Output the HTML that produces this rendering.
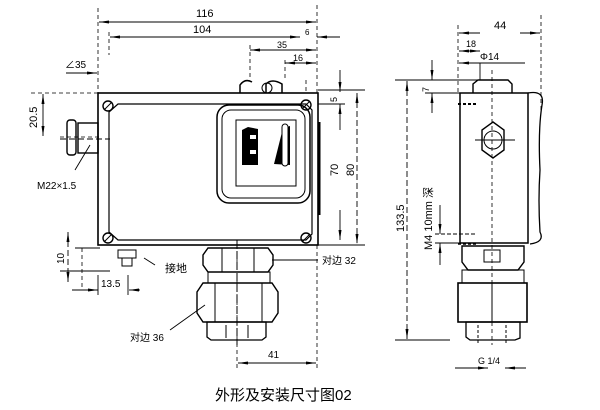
<!DOCTYPE html>
<html><head><meta charset="utf-8"><style>
body{margin:0;background:#fff}
svg{display:block}
text{font-family:"Liberation Sans","Noto Sans CJK SC",sans-serif;fill:#000}
</style></head><body>
<svg width="600" height="410" viewBox="0 0 600 410" xmlns="http://www.w3.org/2000/svg">
<defs>
<marker id="a" viewBox="0 0 10 4" refX="10" refY="2" markerWidth="14" markerHeight="4" orient="auto-start-reverse" markerUnits="userSpaceOnUse"><path d="M0,0.5 L10,2 L0,3.5z" fill="#000"/></marker>
</defs>
<g stroke="#000" fill="none" stroke-width="1">
<!-- extension lines -->
<g stroke-dasharray="4,3" stroke-width="0.8">
<line x1="98" y1="8" x2="98" y2="93"/><line x1="317" y1="5" x2="317" y2="93"/>
<line x1="109" y1="32" x2="109" y2="55"/><line x1="250" y1="45" x2="250" y2="78"/><line x1="285" y1="60" x2="285" y2="80"/><line x1="306" y1="80" x2="306" y2="93"/>
<line x1="317" y1="245" x2="317" y2="370"/><line x1="237" y1="245" x2="237" y2="370"/>
<line x1="458" y1="25" x2="458" y2="93"/><line x1="541" y1="15" x2="541" y2="110"/>
<line x1="492" y1="70" x2="492" y2="345"/><line x1="60" y1="137" x2="100" y2="137"/>
<line x1="82" y1="248" x2="82" y2="290"/><line x1="98" y1="93" x2="30" y2="93"/>
</g>
<!-- dimension lines -->
<g stroke-width="0.9">
<line x1="99" y1="22" x2="316" y2="22" marker-start="url(#a)" marker-end="url(#a)"/>
<line x1="110" y1="37" x2="300" y2="37" marker-start="url(#a)"/>
<line x1="283" y1="37" x2="300" y2="37" marker-end="url(#a)"/><line x1="340" y1="37" x2="317" y2="37" marker-end="url(#a)"/>
<line x1="250" y1="50" x2="316" y2="50" marker-start="url(#a)" marker-end="url(#a)"/>
<line x1="285" y1="63" x2="316" y2="63" marker-start="url(#a)" marker-end="url(#a)"/>
<line x1="66" y1="73" x2="97" y2="73" marker-end="url(#a)"/>
<line x1="43" y1="94" x2="43" y2="136" marker-start="url(#a)" marker-end="url(#a)"/>
<line x1="340" y1="70" x2="340" y2="92" marker-end="url(#a)"/>
<line x1="340" y1="104" x2="340" y2="130" marker-start="url(#a)"/>
<line x1="340" y1="210" x2="340" y2="240" marker-end="url(#a)"/>
<line x1="357" y1="93" x2="357" y2="244" marker-start="url(#a)" marker-end="url(#a)" stroke-dasharray="6,3"/>
<line x1="318" y1="90" x2="365" y2="90"/><line x1="318" y1="245" x2="365" y2="245"/><line x1="318" y1="104" x2="345" y2="104"/>
<line x1="68" y1="232" x2="68" y2="282" marker-start="url(#a)" marker-end="url(#a)" stroke-dasharray="6,3"/>
<line x1="60" y1="271" x2="110" y2="271"/><line x1="75" y1="248" x2="100" y2="248"/>
<line x1="72" y1="290" x2="98" y2="290" marker-end="url(#a)"/><line x1="140" y1="290" x2="129" y2="290" marker-end="url(#a)"/>
<line x1="98" y1="275" x2="98" y2="295"/><line x1="128" y1="275" x2="128" y2="295"/>
<line x1="238" y1="363" x2="316" y2="363" marker-start="url(#a)" marker-end="url(#a)"/>
<line x1="272" y1="260" x2="318" y2="260"/>
<line x1="170" y1="330" x2="205" y2="305"/><line x1="75" y1="170" x2="90" y2="145"/>
<line x1="144" y1="258" x2="155" y2="265"/>
<!-- right view dims -->
<line x1="459" y1="33" x2="480" y2="33" marker-start="url(#a)"/><line x1="520" y1="33" x2="540" y2="33" marker-end="url(#a)"/>
<line x1="459" y1="51" x2="480" y2="51" marker-start="url(#a)" marker-end="url(#a)"/>
<line x1="459" y1="63" x2="525" y2="63" marker-start="url(#a)"/><line x1="480" y1="63" x2="480" y2="80"/>
<line x1="407" y1="81" x2="407" y2="339" marker-start="url(#a)" marker-end="url(#a)" stroke-dasharray="6,3"/>
<line x1="395" y1="80" x2="490" y2="80"/><line x1="395" y1="340" x2="450" y2="340"/>
<line x1="432" y1="60" x2="432" y2="80" marker-end="url(#a)"/><line x1="432" y1="93" x2="432" y2="113" marker-start="url(#a)"/>
<line x1="425" y1="93" x2="460" y2="93"/>
<line x1="440" y1="205" x2="440" y2="234" marker-end="url(#a)"/><line x1="440" y1="243" x2="440" y2="265" marker-start="url(#a)"/>
<line x1="435" y1="234" x2="475" y2="234" stroke-dasharray="4,2"/><line x1="435" y1="243" x2="475" y2="243"/>
<line x1="455" y1="368" x2="488" y2="368" marker-end="url(#a)"/><line x1="526" y1="368" x2="505" y2="368" marker-end="url(#a)"/>
</g>
<!-- main body front -->
<rect x="98" y="93" width="220" height="152" stroke-width="1.6"/>
<path d="M118 104 H306 L312 110 V234 L306 240 H118 L109 232 V112z" stroke-width="1.2"/>
<rect x="217" y="105" width="93" height="98" rx="12" stroke-width="1.5"/>
<rect x="222" y="110" width="83" height="88" rx="9"/>
<rect x="236" y="120" width="60" height="66"/>
<path d="M242 130 L248 127 L258 129 V165 H242z" fill="#000" stroke="none"/>
<path d="M250 135 h6 v4 h-6z M250 150 h6 v4 h-6z" fill="#fff" stroke="none"/>
<path d="M274 164 L283 128 L290 126 V165z" fill="#000" stroke="none"/>
<rect x="282" y="124" width="6" height="42" rx="3" fill="#fff"/>
<line x1="319" y1="122" x2="319" y2="215" stroke-width="3"/>
<g stroke-width="1.4">
<circle cx="108" cy="106" r="5"/><circle cx="306" cy="105" r="5"/><circle cx="108" cy="238" r="5"/><circle cx="306" cy="238" r="5"/>
</g>
<line x1="104" y1="110" x2="112" y2="102"/><line x1="302" y1="109" x2="310" y2="101"/><line x1="104" y1="242" x2="112" y2="234"/><line x1="302" y1="242" x2="310" y2="234"/>
<!-- top knob -->
<path d="M240 93 V85 Q245 78 252 82 M266 93 V84 Q272 78 282 84 V93" stroke-width="1.5"/>
<circle cx="267" cy="88" r="5"/>
<!-- gland -->
<rect x="78" y="123" width="20" height="30" stroke-width="1.4"/>
<rect x="67" y="120" width="9" height="35" rx="3" stroke-width="1.4"/>
<line x1="60" y1="139" x2="110" y2="139" stroke-dasharray="6,3"/>
<!-- ground screw -->
<rect x="118" y="250" width="18" height="8"/><rect x="122" y="258" width="10" height="8"/>
<!-- bottom nuts front -->
<path d="M208 248 H268 L273 255 V265 L268 272 H208 L203 265 V255z" stroke-width="1.4"/>
<line x1="222" y1="248" x2="222" y2="272"/><line x1="254" y1="248" x2="254" y2="272"/>
<rect x="208" y="272" width="62" height="11"/>
<path d="M203 283 H272 L278 292 V313 L272 322 H203 L197 313 V292z" stroke-width="1.4"/>
<line x1="215" y1="283" x2="215" y2="322"/><line x1="262" y1="283" x2="262" y2="322"/>
<path d="M207 322 H266 V337 L262 340 H211 L207 337z" stroke-width="1.3"/>
<line x1="226" y1="325" x2="226" y2="338"/><line x1="248" y1="325" x2="248" y2="338"/>
<line x1="237" y1="240" x2="237" y2="345" stroke-dasharray="8,3"/>
<!-- right view body -->
<rect x="460" y="93" width="68" height="150" stroke-width="1.5"/>
<path d="M528 93 Q545 90 542 105 Q538 130 540 170 Q538 200 540 232 Q545 242 530 244" stroke-width="1.3"/>
<path d="M473 93 V84 L478 80 H508 L512 84 V93" stroke-width="1.4"/>
<path d="M493 122 L504 130 V150 L493 158 L482 150 V130z" stroke-width="1.4"/>
<circle cx="493" cy="140" r="9"/>
<line x1="475" y1="140" x2="515" y2="140"/>
<line x1="458" y1="104" x2="478" y2="104" stroke-dasharray="3,2" stroke-width="2"/>
<line x1="458" y1="244" x2="478" y2="244" stroke-dasharray="3,2" stroke-width="1.5"/>
<path d="M462 246 H524 V262 L518 270 H468 L462 262z" stroke-width="1.4"/>
<rect x="484" y="250" width="16" height="12"/>
<rect x="462" y="270" width="62" height="13"/>
<rect x="458" y="283" width="69" height="39" stroke-width="1.6"/>
<line x1="492" y1="283" x2="492" y2="322"/>
<path d="M466 322 H520 V338 L515 340 H470 L466 337z" stroke-width="1.3"/>
<line x1="478" y1="325" x2="478" y2="345" stroke-dasharray="3,2"/><line x1="506" y1="325" x2="506" y2="345" stroke-dasharray="3,2"/>
</g>
<!-- labels -->
<g font-size="11">
<text x="196" y="17" >116</text>
<text x="193" y="33">104</text>
<text x="305" y="35" font-size="8">6</text>
<text x="277" y="48" font-size="9">35</text>
<text x="293" y="61" font-size="9">16</text>
<text x="65" y="68" font-size="10">∠35</text>
<text x="0" y="0" transform="translate(37,128) rotate(-90)">20.5</text>
<text x="37" y="189" font-size="10">M22×1.5</text>
<text x="0" y="0" transform="translate(337,102) rotate(-90)" font-size="9">5</text>
<text x="0" y="0" transform="translate(338,176) rotate(-90)">70</text>
<text x="0" y="0" transform="translate(354,176) rotate(-90)">80</text>
<text x="0" y="0" transform="translate(64,264) rotate(-90)" font-size="10">10</text>
<text x="101" y="287" font-size="10">13.5</text>
<text x="165" y="272" font-size="11">接地</text>
<text x="322" y="264" font-size="10">对边 32</text>
<text x="130" y="341" font-size="10">对边 36</text>
<text x="268" y="358" font-size="10">41</text>
<text x="494" y="29">44</text>
<text x="466" y="47" font-size="9">18</text>
<text x="480" y="60" font-size="10">Φ14</text>
<text x="0" y="0" transform="translate(429,92) rotate(-90)" font-size="9">7</text>
<text x="0" y="0" transform="translate(404,232) rotate(-90)">133.5</text>
<text x="0" y="0" transform="translate(432,250) rotate(-90)" font-size="11">M4 10mm 深</text>
<text x="478" y="364" font-size="9">G 1/4</text>
<text x="215" y="400" font-size="15">外形及安装尺寸图02</text>
</g>
</svg>
</body></html>
